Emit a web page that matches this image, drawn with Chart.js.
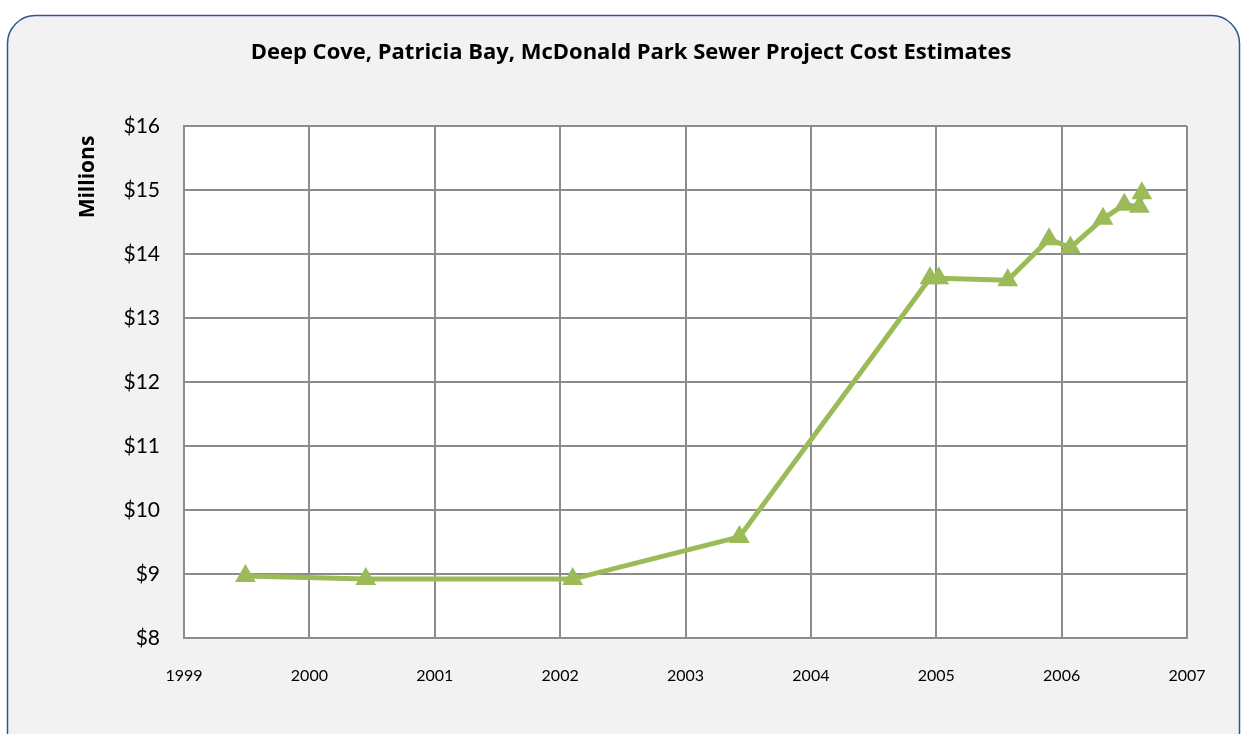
<!DOCTYPE html>
<html>
<head>
<meta charset="utf-8">
<script src="https://cdn.jsdelivr.net/npm/chart.js@4"></script>
<style>
    html, body { margin: 0; padding: 0; background: #ffffff; }
    #wrap { position: relative; width: 1245px; height: 734px; }
</style>
</head>
<body>
<div id="wrap"><canvas id="chart" width="1245" height="734"></canvas></div>
<script>
// 估算日期（年份小数）和费用（百万）
var dates = [1999.49, 2000.45, 2002.10, 2003.43, 2004.95, 2005.02, 2005.57, 2005.90, 2006.07, 2006.33, 2006.50, 2006.62, 2006.64];
var costs = [8.97, 8.92, 8.92, 9.58, 13.62, 13.62, 13.59, 14.23, 14.10, 14.55, 14.77, 14.74, 14.95];
var yearTicks = [1999, 2000, 2001, 2002, 2003, 2004, 2005, 2006, 2007];
var chartTitle = 'Deep Cove, Patricia Bay, McDonald Park Sewer Project Cost Estimates';
var yTitle = 'Millions';

var FONT = 'Lato, "Open Sans", sans-serif';
var TFONT = '"Open Sans", Lato, sans-serif';

// 圆角背景 + 白色绘图区 + 标题
var panelPlugin = {
    id: 'panel',
    beforeDraw: function (chart) {
        var ctx = chart.ctx, a = chart.chartArea;
        ctx.save();
        var x = 7.5, y = 15.5, w = 1232, h = 760, r = 28;
        ctx.beginPath();
        ctx.moveTo(x + r, y);
        ctx.lineTo(x + w - r, y);
        ctx.arcTo(x + w, y, x + w, y + r, r);
        ctx.lineTo(x + w, y + h);
        ctx.lineTo(x, y + h);
        ctx.lineTo(x, y + r);
        ctx.arcTo(x, y, x + r, y, r);
        ctx.closePath();
        ctx.fillStyle = '#f2f2f2';
        ctx.fill();
        ctx.lineWidth = 1.5;
        ctx.strokeStyle = '#2f5597';
        ctx.stroke();
        ctx.fillStyle = '#ffffff';
        ctx.fillRect(a.left, a.top, a.right - a.left, a.bottom - a.top);
        ctx.restore();
    },
    afterDraw: function (chart) {
        var ctx = chart.ctx;
        ctx.save();
        ctx.fillStyle = '#000';
        ctx.textAlign = 'center';
        ctx.textBaseline = 'middle';
        ctx.font = 'bold 22px ' + TFONT;
        ctx.fillText(chartTitle, 631, 53);
        ctx.translate(88, 177);
        ctx.rotate(-Math.PI / 2);
        ctx.font = 'bold 21px ' + TFONT;
        ctx.fillText(yTitle, 0, 0);
        ctx.restore();
    }
};

var points = dates.map(function (d, i) { return { x: d, y: costs[i] }; });

new Chart(document.getElementById('chart').getContext('2d'), {
    type: 'line',
    data: {
        datasets: [{
            data: points,
            borderColor: '#9bbb59',
            backgroundColor: '#9bbb59',
            borderWidth: 5,
            pointStyle: 'triangle',
            pointRadius: 12,
            pointBorderWidth: 0,
            pointBackgroundColor: '#9bbb59',
            tension: 0
        }]
    },
    plugins: [panelPlugin],
    options: {
        responsive: false,
        animation: false,
        layout: { padding: { left: 0, right: 58, top: 126, bottom: 0 } },
        plugins: {
            legend: { display: false },
            tooltip: { enabled: false },
            title: { display: false }
        },
        scales: {
            x: {
                type: 'linear',
                min: 1999,
                max: 2007,
                afterBuildTicks: function (scale) {
                    scale.ticks = yearTicks.map(function (v) { return { value: v }; });
                },
                afterFit: function (scale) { scale.height = 96; },
                grid: { color: '#8c8c8c', lineWidth: 2, drawTicks: false },
                border: { color: '#8c8c8c', width: 2 },
                ticks: {
                    padding: 28,
                    color: '#000',
                    font: { family: FONT, size: 16 },
                    callback: function (v) { return String(v); }
                }
            },
            y: {
                min: 8,
                max: 16,
                afterFit: function (scale) { scale.width = 184; },
                grid: { color: '#8c8c8c', lineWidth: 2, drawTicks: false },
                border: { color: '#8c8c8c', width: 2 },
                ticks: {
                    stepSize: 1,
                    padding: 24,
                    color: '#000',
                    font: { family: FONT, size: 21 },
                    callback: function (v) { return '$' + v; }
                }
            }
        }
    }
});
</script>
</body>
</html>
